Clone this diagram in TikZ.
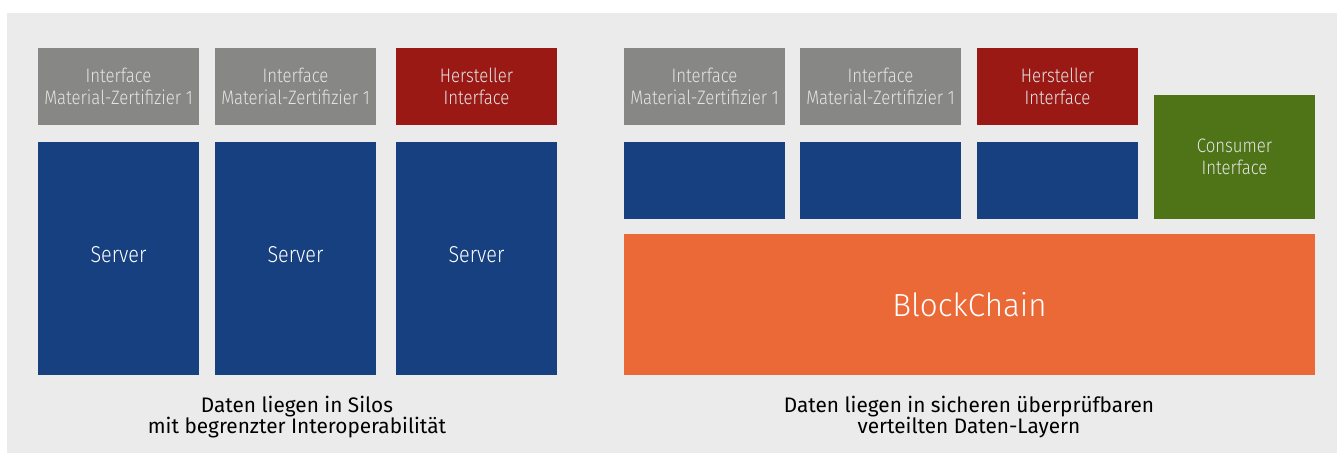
\documentclass[tikz,border=0pt]{standalone}
\usepackage{fontspec}
\setmainfont{Fira Sans}
\newfontfamily\boxfont{Fira Sans Light}[FakeStretch=0.86]
\newfontfamily\srvfont{Fira Sans Light}[FakeStretch=0.86]
\newfontfamily\chainfont{Fira Sans Light}[FakeStretch=0.98]
\newfontfamily\capfont{Fira Sans}[FakeStretch=0.99]
\definecolor{bgc}{HTML}{EBEBEB}
\definecolor{greyc}{HTML}{878785}
\definecolor{bluec}{HTML}{164080}
\definecolor{redc}{HTML}{9A1915}
\definecolor{greenc}{HTML}{4E7417}
\definecolor{orangec}{HTML}{EB6837}
\definecolor{lighttext}{HTML}{E4E4E4}
\tikzset{
  tile/.style={anchor=north west, inner sep=0pt, outer sep=0pt, draw=none,
    align=center, minimum width=161pt, font=\boxfont\fontsize{19.5}{22}\selectfont},
  iface/.style={tile, fill=greyc, minimum height=77pt, text=lighttext},
  maker/.style={tile, fill=redc, minimum height=77pt, text=lighttext},
  server/.style={tile, fill=bluec, minimum height=233pt},
  srvlabel/.style={text=white, inner sep=0pt, font=\srvfont\fontsize{23}{26}\selectfont},
  node/.style={tile, fill=bluec, minimum height=77pt},
  consumer/.style={tile, fill=greenc, minimum height=124pt, text=lighttext},
  chain/.style={tile, fill=orangec, minimum width=691pt, minimum height=141pt,
    text=white, font=\chainfont\fontsize{32}{36}\selectfont},
  caption/.style={align=center, text=black, inner sep=0pt,
    font=\capfont\fontsize{21}{21}\selectfont}
}
\begin{document}
\begin{tikzpicture}[x=1pt,y=-1pt]
  \useasboundingbox (0,0) rectangle (1337,453);
  \fill[bgc] (7,13) rectangle (1337,453);

  % isolated systems
  \node[iface]  (li1) at (38,48)  {Interface\\Material-Zertifizier 1};
  \node[iface]  (li2) at (215,48) {Interface\\Material-Zertifizier 1};
  \node[maker]  (lh)  at (396,48) {Hersteller\\Interface};
  \node[server] (ls1) at (38,142)  {};
  \node[server] (ls2) at (215,142) {};
  \node[server] (ls3) at (396,142) {};
  \node[srvlabel] (ls1t) at ([yshift=4pt]ls1.center) {Server};
  \node[srvlabel] (ls2t) at ([yshift=4pt]ls2.center) {Server};
  \node[srvlabel] (ls3t) at ([yshift=4pt]ls3.center) {Server};
  \node[caption] (lcap) at (297,417) {Daten liegen in Silos\\mit begrenzter Interoperabilität};

  % shared ledger
  \node[iface]  (ri1) at (624,48) {Interface\\Material-Zertifizier 1};
  \node[iface]  (ri2) at (800,48) {Interface\\Material-Zertifizier 1};
  \node[maker]  (rh)  at (977,48) {Hersteller\\Interface};
  \node[node]   (rn1) at (624,142) {};
  \node[node]   (rn2) at (800,142) {};
  \node[node]   (rn3) at (977,142) {};
  \node[consumer] (rc) at (1154,95) {Consumer\\Interface};
  \node[chain]  (bc)  at (624,234) {BlockChain};
  \node[caption] (rcap) at (969,417) {Daten liegen in sicheren überprüfbaren\\verteilten Daten-Layern};
\end{tikzpicture}
\end{document}
